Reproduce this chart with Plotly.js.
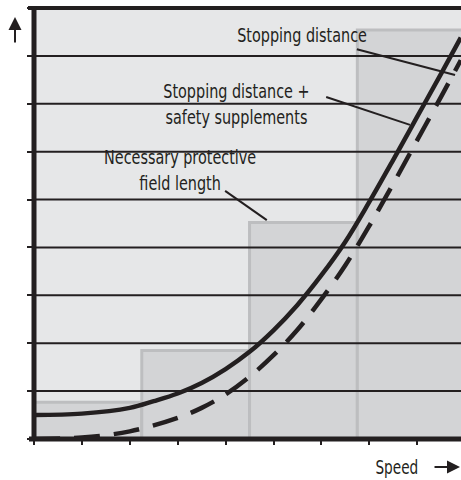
<!DOCTYPE html>
<html>
<head>
<meta charset="utf-8">
<script src="https://cdn.plot.ly/plotly-3.0.1.min.js"></script>
<style>html,body{margin:0;padding:0;background:#fff;}#chart{width:461px;height:480px;}</style>
</head>
<body>
<div id="chart"></div>
<script>
// Protective field steps (speed ranges and field length)
const fieldEdges = [0, 2.25, 4.5, 6.75, 9.0];
const fieldHeights = [0.77, 1.85, 4.52, 8.54];

// Stopping distance + safety supplements (solid)
const safeX = [0, 1, 2, 2.5, 3, 3.5, 4, 4.5, 5, 5.5, 6, 6.5, 7, 7.5, 8, 8.5, 8.91];
const safeY = [0.5, 0.53, 0.65, 0.79, 0.95, 1.17, 1.46, 1.82, 2.27, 2.8, 3.42, 4.12, 4.95, 5.83, 6.73, 7.63, 8.38];

// Stopping distance (dashed)
const stopX = [0, 1, 2, 3, 3.5, 4, 4.5, 5, 5.5, 6, 6.5, 7, 7.5, 8, 8.5, 8.91];
const stopY = [0, 0.03, 0.16, 0.44, 0.65, 0.93, 1.3, 1.75, 2.28, 2.92, 3.63, 4.45, 5.33, 6.24, 7.15, 7.91];

const xTicks = [0, 1, 2, 3, 4, 5, 6, 7, 8];
const yTicks = [0, 1, 2, 3, 4, 5, 6, 7, 8, 9];

const labels = {
  stop: 'Stopping distance',
  safe: 'Stopping distance +<br>safety supplements',
  field: 'Necessary protective<br>field length',
  speed: 'Speed'
};

const ink = '#231f20';
const FONT = '"Liberation Sans Narrow", "Arial Narrow", "DejaVu Sans Condensed", sans-serif';

const centers = fieldHeights.map((h, i) => (fieldEdges[i] + fieldEdges[i + 1]) / 2);
const widths = fieldHeights.map((h, i) => fieldEdges[i + 1] - fieldEdges[i]);

const traces = [
  {
    type: 'bar', x: centers, y: fieldHeights, width: widths,
    marker: {color: '#d3d4d6', line: {color: '#bdbec0', width: 3}},
    hoverinfo: 'skip', showlegend: false
  },
  {
    type: 'scatter', mode: 'lines', x: stopX, y: stopY,
    line: {color: ink, width: 4.5, dash: '26px,14px', shape: 'spline', smoothing: 1},
    hoverinfo: 'skip', showlegend: false
  },
  {
    type: 'scatter', mode: 'lines', x: safeX, y: safeY,
    line: {color: ink, width: 4.5, shape: 'spline', smoothing: 1},
    hoverinfo: 'skip', showlegend: false
  }
];

const shapes = [];
// horizontal grid lines drawn over the field steps
yTicks.slice(1, -1).forEach(v => {
  shapes.push({type: 'line', xref: 'paper', yref: 'y', x0: 0, x1: 1, y0: v, y1: v,
    line: {color: ink, width: 2}, layer: 'above'});
});
// frame: top, left, bottom
shapes.push({type: 'line', xref: 'paper', yref: 'paper', x0: -6/427, x1: 1, y0: 1, y1: 1, line: {color: ink, width: 4}, layer: 'above'});
shapes.push({type: 'line', xref: 'paper', yref: 'paper', x0: 0, x1: 0, y0: -2/431, y1: 1 + 2/431, line: {color: ink, width: 5}, layer: 'above'});
shapes.push({type: 'line', xref: 'paper', yref: 'paper', x0: -5/427, x1: 1, y0: 0, y1: 0, line: {color: ink, width: 5}, layer: 'above'});
// leader lines
[[6.74, 8.14, 8.79, 7.60], [6.10, 7.14, 7.85, 6.56], [3.99, 5.18, 4.86, 4.57]].forEach(p => {
  shapes.push({type: 'line', xref: 'x', yref: 'y', x0: p[0], y0: p[1], x1: p[2], y1: p[3],
    line: {color: ink, width: 2}, layer: 'above'});
});

const tf = {family: FONT, size: 20, color: ink};
const tfs = {family: FONT, size: 19, color: ink};
const annotations = [
  {xref: 'paper', yref: 'paper', x: 0.6276, y: 0.9374, text: labels.stop, showarrow: false, font: tf, xanchor: 'center', yanchor: 'middle'},
  {xref: 'paper', yref: 'paper', x: 0.4731, y: 0.7784, text: labels.safe, showarrow: false, font: tf, xanchor: 'center', yanchor: 'middle'},
  {xref: 'paper', yref: 'paper', x: 0.3419, y: 0.6230, text: labels.field, showarrow: false, font: tf, xanchor: 'center', yanchor: 'middle'},
  {xref: 'paper', yref: 'paper', x: 0.8501, y: -0.065, text: labels.speed, showarrow: false, font: tfs, xanchor: 'center', yanchor: 'middle'},
  {xref: 'paper', yref: 'paper', x: 0.9977, y: -0.065, text: '', showarrow: true, ax: -27, ay: 0,
    arrowhead: 2, arrowsize: 1.3, arrowwidth: 2, arrowcolor: ink, standoff: 0, startstandoff: 0},
  {xref: 'paper', yref: 'paper', x: -0.0445, y: 0.979, text: '', showarrow: true, ax: 0, ay: 27,
    arrowhead: 2, arrowsize: 1.3, arrowwidth: 2, arrowcolor: ink, standoff: 0, startstandoff: 0}
];

const layout = {
  width: 461, height: 480,
  margin: {l: 34, r: 0, t: 8, b: 41, pad: 0},
  paper_bgcolor: '#ffffff', plot_bgcolor: '#e6e7e8',
  showlegend: false, bargap: 0,
  xaxis: {range: [0, 427/47.9], tickvals: xTicks, showticklabels: false, ticks: 'outside',
    ticklen: 5, tickwidth: 2, tickcolor: ink, showgrid: false, zeroline: false, showline: false, fixedrange: true},
  yaxis: {range: [0, 9], tickvals: yTicks, showticklabels: false, ticks: 'outside',
    ticklen: 6, tickwidth: 2, tickcolor: ink, showgrid: false, zeroline: false, showline: false, fixedrange: true},
  shapes: shapes,
  annotations: annotations
};

Plotly.newPlot('chart', traces, layout, {staticPlot: true, displayModeBar: false}).then(() => {
  // emulate the condensed typeface of the original by narrowing the label glyphs
  document.querySelectorAll('#chart .annotation-text-g text').forEach(t => {
    const bb = t.getBBox();
    if (!bb.width) return;
    const cx = bb.x + bb.width / 2;
    const prev = t.getAttribute('transform') || '';
    t.setAttribute('transform', prev + ` translate(${cx},0) scale(0.8,1) translate(${-cx},0)`);
  });
});
</script>
</body>
</html>
